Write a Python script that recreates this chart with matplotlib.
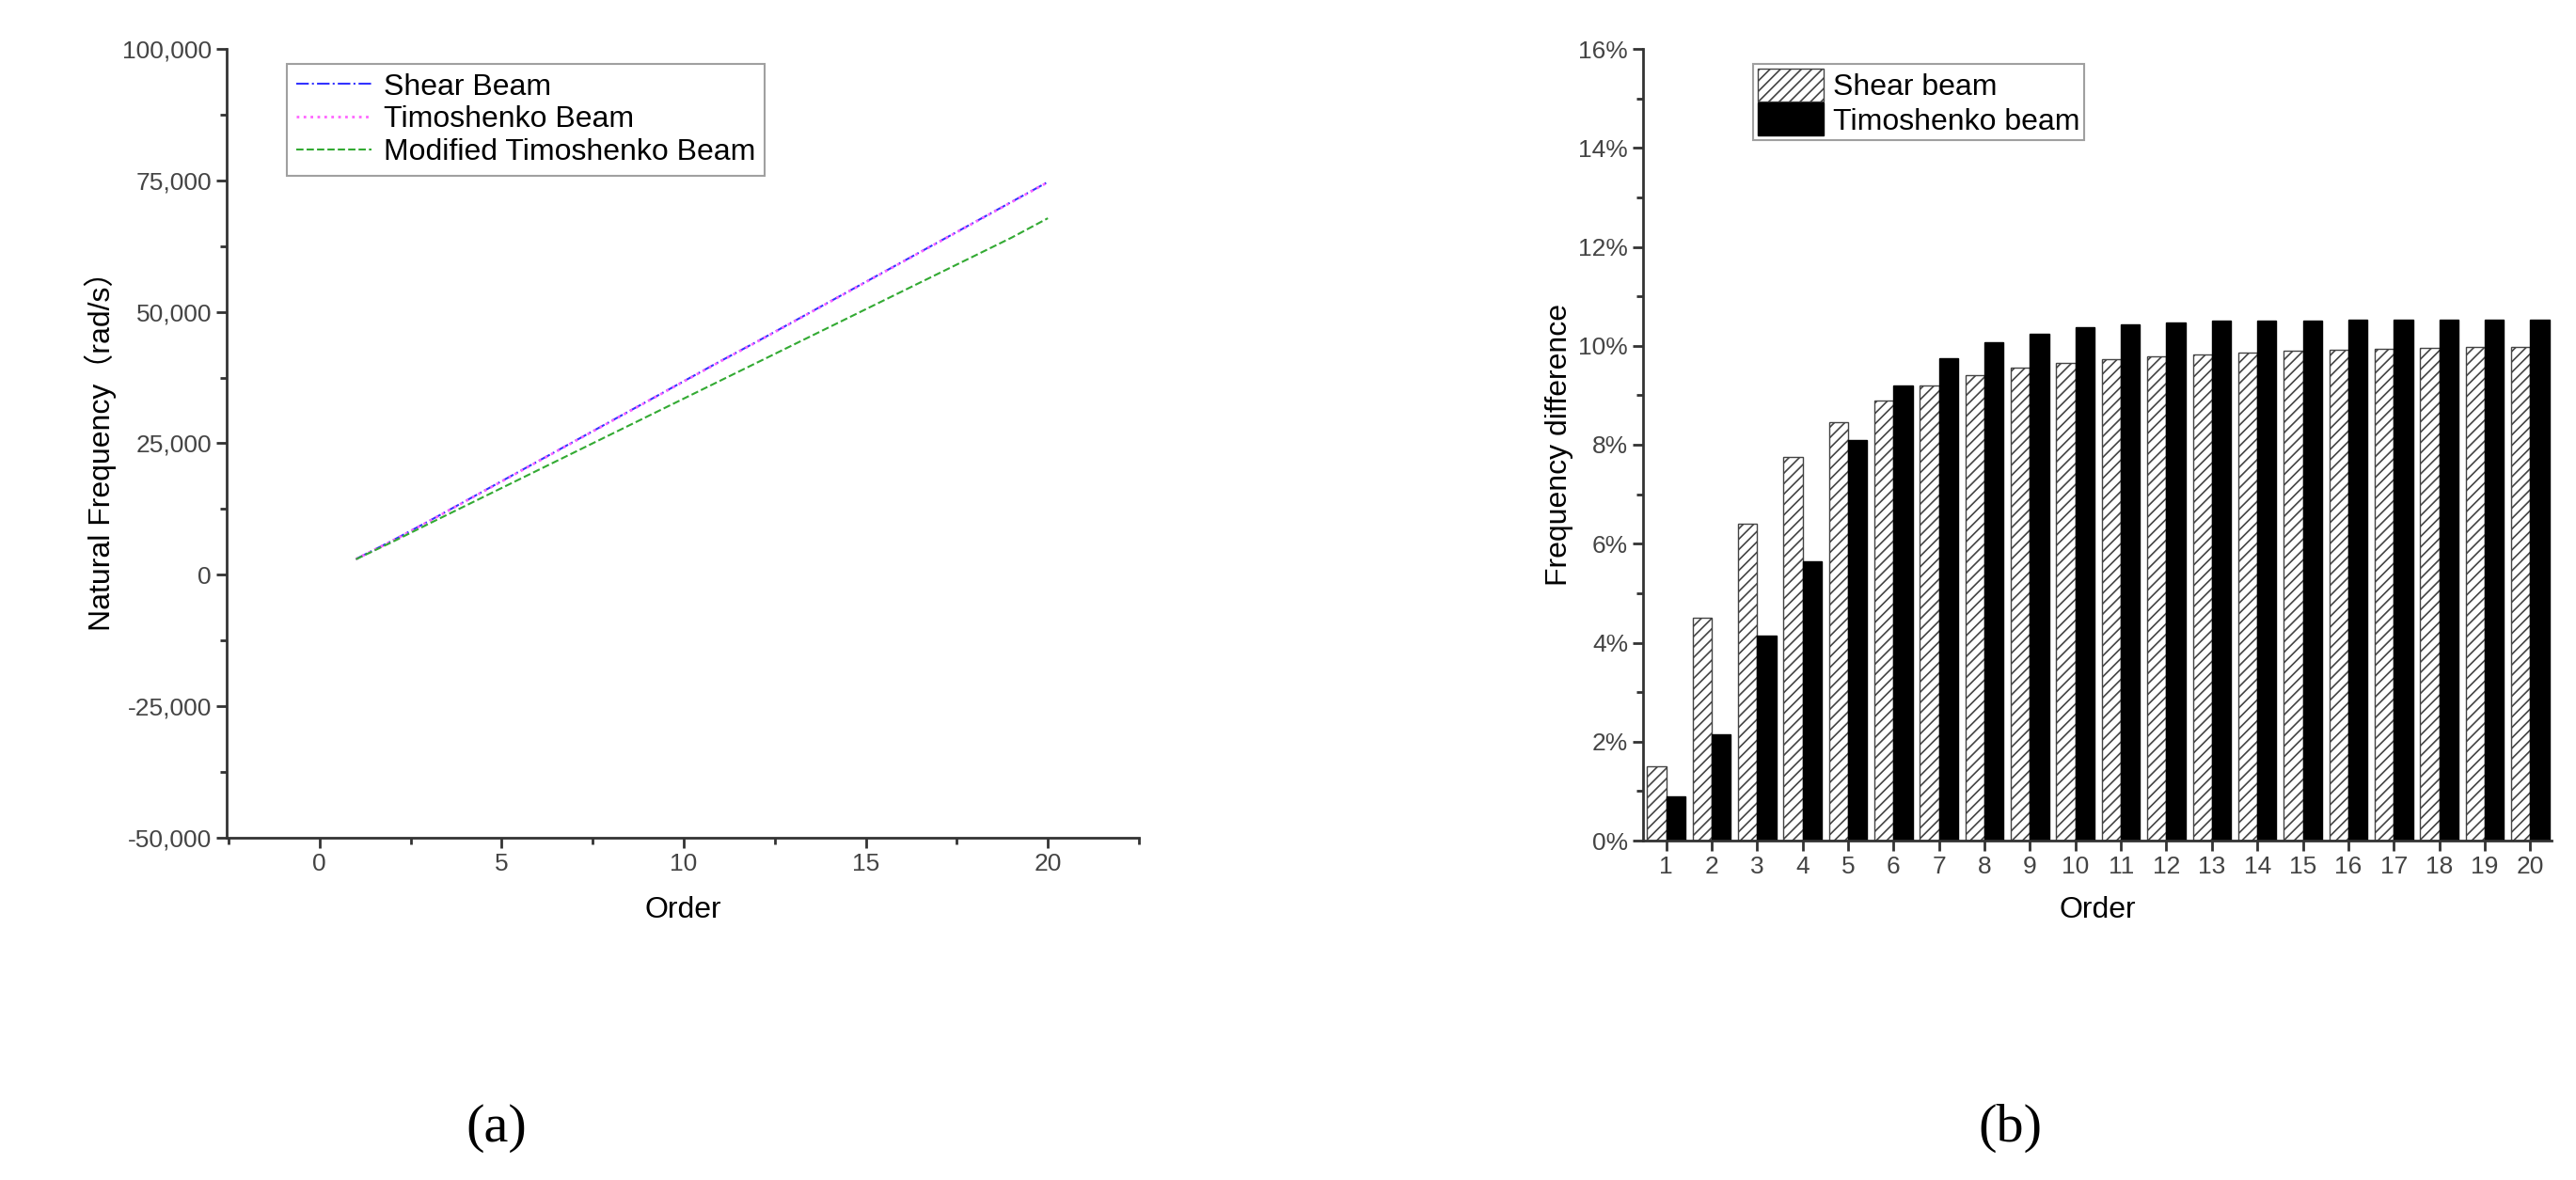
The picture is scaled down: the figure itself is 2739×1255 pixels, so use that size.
import matplotlib
matplotlib.use("Agg")
import matplotlib.pyplot as plt
from matplotlib.ticker import FuncFormatter, MultipleLocator
import numpy as np

plt.rcParams['font.family'] = ['Liberation Sans', 'DejaVu Sans']
plt.rcParams['hatch.color'] = '#555555'
plt.rcParams['hatch.linewidth'] = 1.2

orders = list(range(1, 21))
shear_freq = [3000, 6500, 10200, 14000, 17800, 21600, 25400, 29200, 33000, 36800,
              40600, 44300, 48100, 51900, 55700, 59500, 63300, 67100, 70900, 74700]
timo_freq = [2980, 6450, 10150, 13950, 17750, 21550, 25350, 29150, 32950, 36750,
             40550, 44250, 48050, 51850, 55650, 59450, 63250, 67050, 70850, 74650]
mod_freq = [2950, 6250, 9700, 13100, 16500, 19900, 23300, 26700, 30100, 33500,
            36900, 40300, 43700, 47100, 50500, 53900, 57300, 60700, 64100, 67800]

shear_diff = [1.5, 4.5, 6.4, 7.75, 8.45, 8.9, 9.2, 9.4, 9.55, 9.65,
              9.72, 9.78, 9.83, 9.87, 9.9, 9.92, 9.94, 9.96, 9.97, 9.98]
timo_diff = [0.9, 2.15, 4.15, 5.65, 8.1, 9.2, 9.75, 10.07, 10.25, 10.37,
             10.43, 10.47, 10.5, 10.5, 10.5, 10.52, 10.52, 10.52, 10.52, 10.52]

W, H = 2739, 1255
fig = plt.figure(figsize=(W/100, H/100), dpi=100)

def rect(l, t, r, b):
    return [l/W, 1-b/H, (r-l)/W, (b-t)/H]

fs = 19
# (a)
ax1 = fig.add_axes(rect(241, 52, 1211, 891))
ax1.plot(orders, shear_freq, color='#3333ff', ls='-.', lw=1.5, label='Shear Beam')
ax1.plot(orders, timo_freq, color='#ff66ff', ls=':', lw=2, label='Timoshenko Beam')
ax1.plot(orders, mod_freq, color='#33aa33', ls='--', lw=1.5, label='Modified Timoshenko Beam')
ax1.set_xlim(-2.55, 22.5)
ax1.set_ylim(-50000, 100000)
ax1.yaxis.set_major_locator(MultipleLocator(25000))
ax1.yaxis.set_minor_locator(MultipleLocator(12500))
ax1.xaxis.set_major_locator(MultipleLocator(5))
ax1.xaxis.set_minor_locator(MultipleLocator(2.5))
ax1.yaxis.set_major_formatter(FuncFormatter(lambda v, p: f"{int(v):,}"))
ax1.set_xlabel('Order', fontsize=23, labelpad=16)
ax1.set_ylabel('Natural Frequency（rad/s）', fontsize=23, family=['Liberation Sans', 'Noto Sans CJK SC'])
leg = ax1.legend(loc='upper left', bbox_to_anchor=(0.05, 1.0), fontsize=23, fancybox=False,
                 edgecolor='#888888', handlelength=2.5, borderpad=0.3, labelspacing=0.15,
                 handletextpad=0.4)
leg.get_frame().set_linewidth(1.5)

# (b)
ax2 = fig.add_axes(rect(1747, 52, 2713, 894))
x = np.array(orders)
w = 0.42
ax2.bar(x - w/2, shear_diff, width=w, facecolor='white', edgecolor='#444444', hatch='///', lw=1, label='Shear beam')
ax2.bar(x + w/2, timo_diff, width=w, facecolor='black', edgecolor='black', lw=1, label='Timoshenko beam')
ax2.set_xlim(0.49, 20.47)
ax2.set_ylim(0, 16)
ax2.set_xticks(orders)
ax2.yaxis.set_major_locator(MultipleLocator(2))
ax2.yaxis.set_minor_locator(MultipleLocator(1))
ax2.yaxis.set_major_formatter(FuncFormatter(lambda v, p: f"{int(v)}%"))
ax2.set_xlabel('Order', fontsize=23, labelpad=14)
ax2.set_ylabel('Frequency difference', fontsize=23)
leg2 = ax2.legend(loc='upper left', bbox_to_anchor=(0.105, 1.0), fontsize=23, fancybox=False,
                  edgecolor='#888888', handlelength=2.2, handleheight=1.3, borderpad=0.15,
                  labelspacing=0.05, handletextpad=0.3)
leg2.get_frame().set_linewidth(1.5)

for ax in (ax1, ax2):
    ax.spines['top'].set_visible(False)
    ax.spines['right'].set_visible(False)
    for s in ('left', 'bottom'):
        ax.spines[s].set_linewidth(2)
        ax.spines[s].set_color('#333333')
    ax.tick_params(which='major', length=8, width=2, labelsize=fs, colors='#333333')
    ax.tick_params(which='minor', length=5, width=2, colors='#333333')
    for lab in ax.get_xticklabels() + ax.get_yticklabels():
        lab.set_color('#444444')

fig.text(528/W, 1-1200/H, '(a)', fontsize=42, ha='center', va='center', family='Liberation Serif')
fig.text(2137/W, 1-1200/H, '(b)', fontsize=42, ha='center', va='center', family='Liberation Serif')

fig.savefig('out.png', dpi=100)
